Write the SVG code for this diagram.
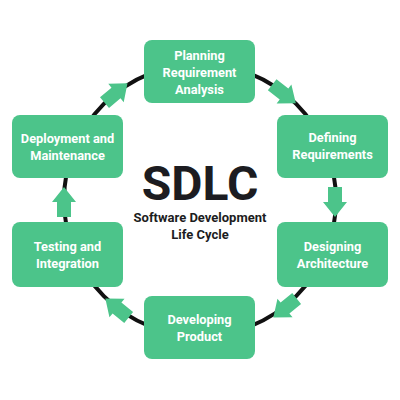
<svg xmlns="http://www.w3.org/2000/svg" width="400" height="400" viewBox="0 0 400 400">
<style>
.box{fill:#4cc48a}
.lbl{font-family:Roboto,"Liberation Sans",sans-serif;font-weight:bold;font-size:12.8px;fill:#ffffff;text-anchor:middle}
.arr{fill:#4cc48a}
.title{font-family:Roboto,"Liberation Sans",sans-serif;font-weight:bold;fill:#1c1c21;text-anchor:middle}
</style>
<defs>
<polygon id="ah" points="-15,-7 0,-7 0,-12 15,0 0,12 0,7 -15,7"/>
</defs>
<rect width="400" height="400" fill="#ffffff"/>
<g id="connectors">
<circle cx="200" cy="200" r="136" fill="none" stroke="#111111" stroke-width="4"/>
<use href="#ah" class="arr" transform="translate(116,93) rotate(-40)"/>
<use href="#ah" class="arr" transform="translate(284,94) rotate(38)"/>
<use href="#ah" class="arr" transform="translate(335,202) rotate(90)"/>
<use href="#ah" class="arr" transform="translate(285,308) rotate(141)"/>
<use href="#ah" class="arr" transform="translate(117,308) rotate(219)"/>
<use href="#ah" class="arr" transform="translate(64,202) rotate(-90)"/>
</g>
<g id="planning">
<rect class="box" x="144" y="40" width="111" height="63" rx="8"/>
<text class="lbl" x="199.5" y="60">Planning</text>
<text class="lbl" x="199.5" y="77">Requirement</text>
<text class="lbl" x="199.5" y="94">Analysis</text>
</g>
<g id="defining">
<rect class="box" x="277" y="115" width="111" height="63" rx="8"/>
<text class="lbl" x="332.5" y="142">Defining</text>
<text class="lbl" x="332.5" y="159">Requirements</text>
</g>
<g id="designing">
<rect class="box" x="277" y="222" width="111" height="65" rx="8"/>
<text class="lbl" x="332.5" y="251">Designing</text>
<text class="lbl" x="332.5" y="268">Architecture</text>
</g>
<g id="developing">
<rect class="box" x="144" y="296" width="111" height="63" rx="8"/>
<text class="lbl" x="199.5" y="324">Developing</text>
<text class="lbl" x="199.5" y="341">Product</text>
</g>
<g id="testing">
<rect class="box" x="12" y="222" width="111" height="65" rx="8"/>
<text class="lbl" x="67.5" y="251">Testing and</text>
<text class="lbl" x="67.5" y="268">Integration</text>
</g>
<g id="deployment">
<rect class="box" x="12" y="115" width="111" height="63" rx="8"/>
<text class="lbl" x="67.5" y="143">Deployment and</text>
<text class="lbl" x="67.5" y="160">Maintenance</text>
</g>
<g id="center">
<text class="title" x="200" y="200" font-size="48">SDLC</text>
<text class="title" x="200" y="222" font-size="13">Software Development</text>
<text class="title" x="200" y="239" font-size="13">Life Cycle</text>
</g>
</svg>
